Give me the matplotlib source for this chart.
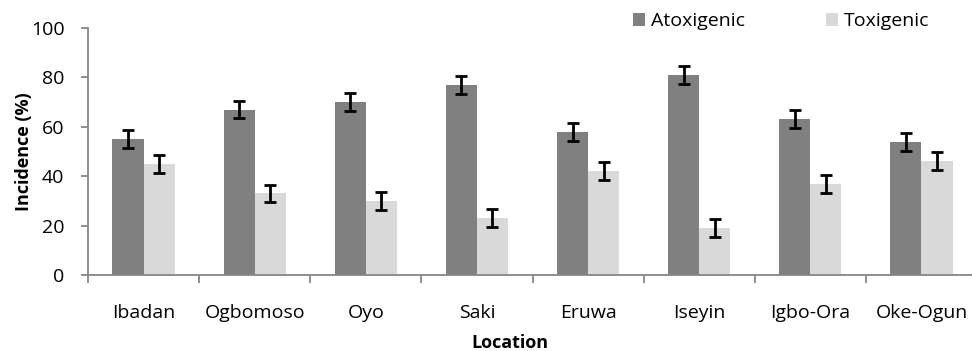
import matplotlib
matplotlib.use("Agg")
import matplotlib.pyplot as plt
import numpy as np

locations = ["Ibadan", "Ogbomoso", "Oyo", "Saki", "Eruwa", "Iseyin", "Igbo-Ora", "Oke-Ogun"]
atoxigenic = [55, 67, 70, 77, 58, 81, 63, 54]
toxigenic = [45, 33, 30, 23, 42, 19, 37, 46]
atox_err = [3.6, 3.6, 3.6, 3.6, 3.6, 3.6, 3.6, 3.6]
tox_err = [3.6, 3.6, 3.6, 3.6, 3.6, 3.6, 3.6, 3.6]

plt.rcParams['font.family'] = ['Open Sans', 'DejaVu Sans']

W, H = 972, 351
fig = plt.figure(figsize=(W/100, H/100), dpi=100)
ax_l, ax_r, ax_t, ax_b = 88, 977, 28, 275
ax = fig.add_axes([ax_l/W, 1-ax_b/H, (ax_r-ax_l)/W, (ax_b-ax_t)/H])

x = np.arange(len(locations))
w = 0.28
axis_col = "#868686"
ek = dict(ecolor="black", elinewidth=2, capsize=4.3, capthick=2)
b1 = ax.bar(x - w/2, atoxigenic, w, color="#808080", yerr=atox_err, error_kw=ek, label="Atoxigenic")
b2 = ax.bar(x + w/2, toxigenic, w, color="#d9d9d9", yerr=tox_err, error_kw=ek, label="Toxigenic")

ax.set_xlim(-0.5, len(locations) - 0.5)
ax.set_ylim(0, 100)
ax.set_yticks([0, 20, 40, 60, 80, 100])
ax.set_xticks(x)
ax.set_xticklabels(locations, fontsize=14)
ax.set_xticks(np.arange(len(locations)) - 0.5, minor=True)
ax.tick_params(axis='x', which='major', length=0, pad=21)
ax.tick_params(axis='x', which='minor', length=6, width=1.3, color=axis_col, direction='out')
ax.tick_params(axis='y', length=5, width=1.3, color=axis_col, labelsize=14, pad=12)
for s in ["top", "right"]:
    ax.spines[s].set_visible(False)
for s in ["left", "bottom"]:
    ax.spines[s].set_color(axis_col)
    ax.spines[s].set_linewidth(1.3)

aw = ax_r - ax_l
ah = ax_b - ax_t
ax.set_ylabel("Incidence (%)", fontsize=13, fontweight="bold", va="baseline")
ax.yaxis.set_label_coords((29 - ax_l)/aw, (ax_b - 152)/ah)
ax.set_xlabel("Location", fontsize=13, fontweight="bold", va="baseline")
ax.xaxis.set_label_coords((509.5 - ax_l)/aw, -(348 - ax_b)/ah)

leg = fig.legend(handles=[b1, b2], labels=["Atoxigenic", "Toxigenic"], loc="center left",
                 bbox_to_anchor=(633/W, 1-21.5/H), ncol=2, frameon=False, fontsize=14,
                 handlelength=0.62, handleheight=0.65, handletextpad=0.28, columnspacing=4.2,
                 borderaxespad=0, borderpad=0)

fig.savefig("out.png", dpi=100)
